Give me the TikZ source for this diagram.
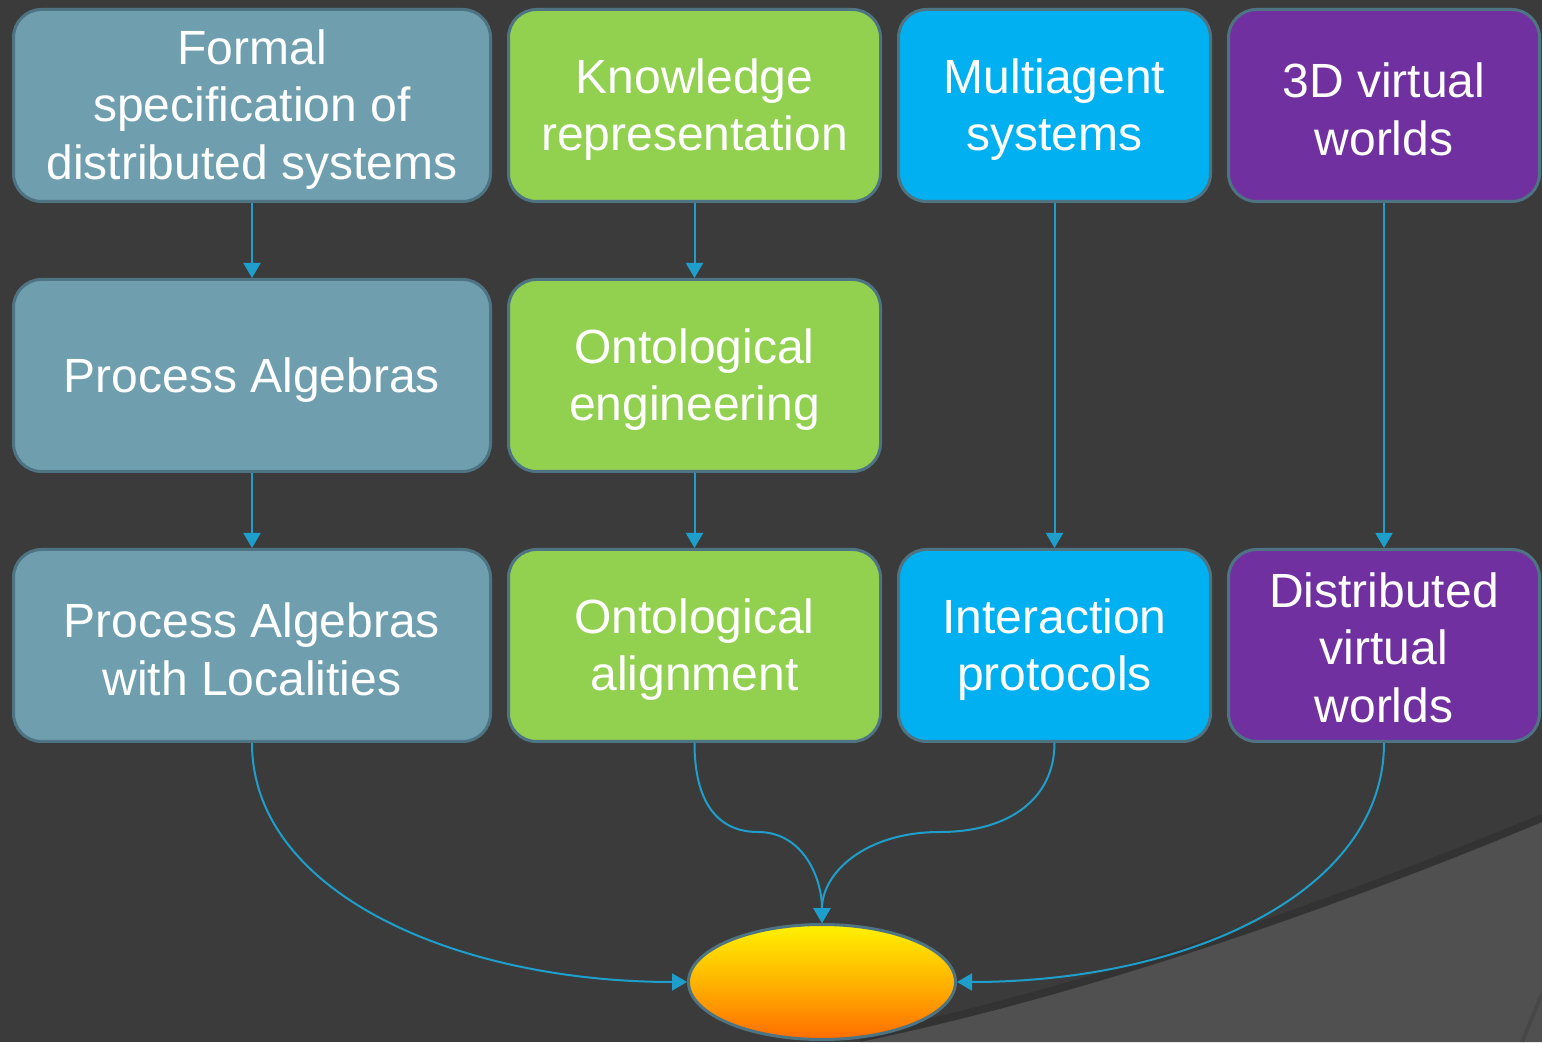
\documentclass[tikz,border=0pt]{standalone}
\usepackage{fontspec}
\setmainfont{Liberation Sans}
\usetikzlibrary{shapes.geometric,arrows.meta}
\definecolor{bgdark}{HTML}{3B3B3B}
\definecolor{bglight}{HTML}{505050}
\definecolor{edgecol}{HTML}{4E7483}
\definecolor{tealbox}{HTML}{6F9FAF}
\definecolor{greenbox}{HTML}{92D050}
\definecolor{bluebox}{HTML}{00B0F0}
\definecolor{purplebox}{HTML}{7030A0}
\definecolor{linkcol}{HTML}{1E9FCB}
\definecolor{goaltop}{HTML}{FFF200}
\definecolor{goalmid}{HTML}{FFB400}
\definecolor{goalbot}{HTML}{FF6C00}
\begin{document}
\begin{tikzpicture}[x=1pt,y=1pt,
  card/.style={draw=edgecol, line width=3pt, rounded corners=28pt,
    minimum height=192pt, inner sep=0pt},
  colA/.style={card, fill=tealbox, minimum width=477pt},
  colB/.style={card, fill=greenbox, minimum width=372pt},
  colC/.style={card, fill=bluebox, minimum width=312pt},
  colD/.style={card, fill=purplebox, minimum width=311pt},
  txt/.style={text=white, align=center, inner sep=0pt,
    font=\fontsize{48}{57.5}\selectfont},
  conn/.style={draw=linkcol, line width=2pt,
    -{Triangle[length=15pt,width=17pt]}},
  goalshape/.style={ellipse, draw=edgecol, line width=3pt,
    minimum width=267pt, minimum height=115pt,
    top color=goaltop, bottom color=goalbot, middle color=goalmid}
]
\useasboundingbox (0,0) rectangle (1542,1042);
% background and lighter swept panel
\fill[bgdark] (0,0) rectangle (1542,1042);
\fill[bglight] (860,0) .. controls (1100,50) and (1350,140) .. (1542,220) -- (1542,0) -- cycle;
\draw[black, opacity=0.12, line width=8pt] (860,4) .. controls (1100,54) and (1350,144) .. (1542,224);
\draw[black, opacity=0.1, line width=4pt] (1522,0) -- (1542,48);

% boxes: top row
\node[colA] (fs) at (252,936.5) {};
\node[colB] (kr) at (694.5,936.5) {};
\node[colC] (ma) at (1054.5,936.5) {};
\node[colD] (vw) at (1384,936.5) {};
% middle row
\node[colA] (pa) at (252,666.5) {};
\node[colB] (oe) at (694.5,666.5) {};
% bottom row
\node[colA] (pl) at (252,396.5) {};
\node[colB] (oa) at (694.5,396.5) {};
\node[colC] (ip) at (1054.5,396.5) {};
\node[colD] (dv) at (1384,396.5) {};

% box captions
\node[txt] (fsT) at ([yshift=-4pt]fs.center) {Formal\\specification of\\distributed systems};
\node[txt] (krT) at ([yshift=-4pt]kr.center) {Knowledge\\representation};
\node[txt] (maT) at ([yshift=-4pt]ma.center) {Multiagent\\systems};
\node[txt] (vwT) at ([yshift=-4pt]vw.center) {3D virtual\\worlds};
\node[txt] (paT) at ([yshift=-5pt]pa.center) {Process Algebras};
\node[txt] (oeT) at ([yshift=-4pt]oe.center) {Ontological\\engineering};
\node[txt] (plT) at ([yshift=-4pt]pl.center) {Process Algebras\\with Localities};
\node[txt] (oaT) at ([yshift=-4pt]oa.center) {Ontological\\alignment};
\node[txt] (ipT) at ([yshift=-4pt]ip.center) {Interaction\\protocols};
\node[txt] (dvT) at ([yshift=-2pt]dv.center) {Distributed\\virtual\\worlds};

% target
\node[goalshape] (goal) at (822,60) {};

% vertical links
\draw[conn] (fs.south) -- (pa.north);
\draw[conn] (pa.south) -- (pl.north);
\draw[conn] (kr.south) -- (oe.north);
\draw[conn] (oe.south) -- (oa.north);
\draw[conn] (ma.south) -- (ip.north);
\draw[conn] (vw.south) -- (dv.north);

% converging links
\coordinate (mL) at (758,210);
\coordinate (mR) at (940,210);
\draw[conn] (pl.south) .. controls +(0,-150) and +(-230,0) .. (goal.west);
\draw[conn] (dv.south) .. controls +(0,-150) and +(230,0) .. (goal.east);
\draw[conn] (oa.south) .. controls +(0,-60) and +(-40,0) .. (mL)
  .. controls +(45,0) and +(0,45) .. (goal.north);
\draw[conn] (ip.south) .. controls +(0,-55) and +(70,0) .. (mR)
  .. controls +(-75,0) and +(0,50) .. (goal.north);
\end{tikzpicture}
\end{document}
